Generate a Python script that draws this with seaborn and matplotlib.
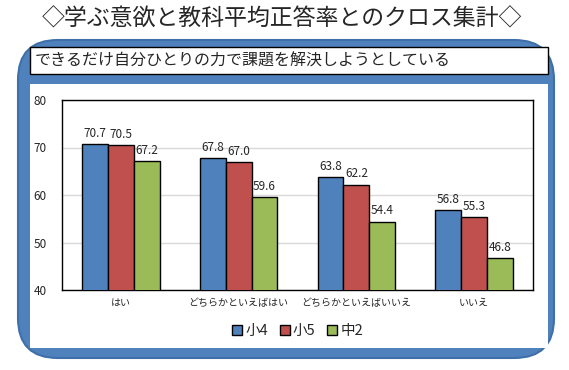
import pandas as pd
import seaborn as sns
import matplotlib.pyplot as plt
from matplotlib.patches import FancyBboxPatch, Rectangle

categories = ["はい", "どちらかといえばはい", "どちらかといえばいいえ", "いいえ"]
grades = ["小4", "小5", "中2"]
sho4 = [70.7, 67.8, 63.8, 56.8]
sho5 = [70.5, 67.0, 62.2, 55.3]
chu2 = [67.2, 59.6, 54.4, 46.8]
colors = ["#4F81BD", "#C0504D", "#9BBB59"]

sns.set_style("white")
plt.rcParams['font.family'] = ['Noto Sans CJK JP', 'DejaVu Sans']

df = pd.DataFrame({
    "category": categories * 3,
    "grade": [g for g in grades for _ in categories],
    "value": sho4 + sho5 + chu2,
})

W, H = 569, 370
fig = plt.figure(figsize=(W / 100, H / 100), dpi=100)

# blue rounded frame
frame = FancyBboxPatch((18 / W, 1 - 358 / H), 536 / W, 318 / H,
                       boxstyle="round,pad=0,rounding_size=0.07",
                       mutation_aspect=W / H,
                       transform=fig.transFigure, facecolor="#4F81BD",
                       edgecolor="#3F6FA8", linewidth=1.5, zorder=0)
fig.patches.append(frame)
# subtitle box
fig.patches.append(Rectangle((30 / W, 1 - 74 / H), 518 / W, 27 / H,
                             transform=fig.transFigure, facecolor="white",
                             edgecolor="black", linewidth=1, zorder=1))
# chart area
fig.patches.append(Rectangle((30 / W, 1 - 348 / H), 518 / W, 264 / H,
                             transform=fig.transFigure, facecolor="white",
                             edgecolor="none", zorder=1))

fig.text(282 / W, 1 - 19 / H, "◇学ぶ意欲と教科平均正答率とのクロス集計◇",
         ha="center", va="center", fontsize=16.5)
fig.text(35 / W, 1 - 61 / H, "できるだけ自分ひとりの力で課題を解決しようとしている",
         ha="left", va="center", fontsize=11.5)

ax = fig.add_axes([62 / W, 1 - 290 / H, 471 / W, 190 / H])
ax.set_zorder(2)
sns.barplot(data=df, x="category", y="value", hue="grade", palette=colors,
            width=0.66, edgecolor="black", linewidth=1, saturation=1,
            ax=ax, legend=True, zorder=3)
for c in ax.containers:
    ax.bar_label(c, fmt="%.1f", padding=3, fontsize=8.5)

ax.set_ylim(40, 80)
ax.set_yticks([40, 50, 60, 70, 80])
ax.yaxis.grid(True, color="#D9D9D9", linewidth=1)
ax.set_axisbelow(True)
for s in ax.spines.values():
    s.set_color("black")
    s.set_linewidth(1)
ax.tick_params(axis="x", length=0, labelsize=7.2, pad=6)
ax.tick_params(axis="y", length=0, labelsize=8.5, pad=11)
ax.set_xlabel("")
ax.set_ylabel("")
ax.set_facecolor("white")

ax.legend(loc="upper center", bbox_to_anchor=(0.5, -0.11), ncol=3,
          frameon=False, fontsize=10.5, handlelength=0.7, handleheight=0.7,
          handletextpad=0.2, columnspacing=0.8)

fig.savefig("out.png", dpi=100)
